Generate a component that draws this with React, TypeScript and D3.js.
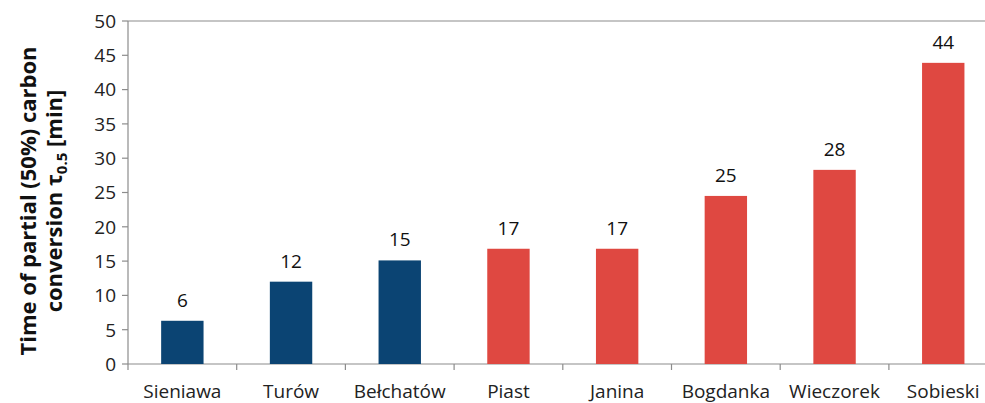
import React from "react";
import * as d3 from "d3";

const categories = ["Sieniawa", "Turów", "Bełchatów", "Piast", "Janina", "Bogdanka", "Wieczorek", "Sobieski"];
const values = [6.3, 12.0, 15.1, 16.8, 16.8, 24.5, 28.3, 43.9];
const labels = ["6", "12", "15", "17", "17", "25", "28", "44"];
const groups = ["blue", "blue", "blue", "red", "red", "red", "red", "red"];
const yTicks = [0, 5, 10, 15, 20, 25, 30, 35, 40, 45, 50];

const W = 985, H = 403;
const left = 128, right = 997.6, top = 21, bottom = 364;
const colors: Record<string, string> = { blue: "#0b4473", red: "#df4841" };
const font = "'Open Sans', 'Noto Sans', sans-serif";

export default function App() {
  const x = d3.scaleBand<string>().domain(categories).range([left, right]).paddingInner(0.61).paddingOuter(0.305);
  const band = d3.scaleBand<string>().domain(categories).range([left, right]);
  const y = d3.scaleLinear().domain([0, 50]).range([bottom, top]);
  const axisColor = "#8c8c8c";
  return (
    <svg width={W} height={H} style={{ position: "absolute", left: 0, top: 0, background: "#fff" }}>
      <line x1={left} x2={W} y1={y(50)} y2={y(50)} stroke={axisColor} strokeWidth={1.2} />
      <line x1={left} x2={left} y1={top} y2={bottom} stroke={axisColor} strokeWidth={1.2} />
      <line x1={left} x2={W} y1={bottom} y2={bottom} stroke={axisColor} strokeWidth={1.2} />
      {yTicks.map((t) => (
        <g key={t}>
          <line x1={left - 6} x2={left} y1={y(t)} y2={y(t)} stroke={axisColor} strokeWidth={1.2} />
          <text x={left - 12} y={y(t)} dy="0.36em" textAnchor="end" fontFamily={font} fontSize={19} fill="#222">{t}</text>
        </g>
      ))}
      {categories.map((c) => (
        <line key={"t" + c} x1={band(c)!} x2={band(c)!} y1={bottom} y2={bottom + 6} stroke={axisColor} strokeWidth={1.2} />
      ))}
      {categories.map((c, i) => (
        <g key={c}>
          <rect x={x(c)!} y={y(values[i])} width={x.bandwidth()} height={bottom - y(values[i])} fill={colors[groups[i]]} />
          <text x={x(c)! + x.bandwidth() / 2} y={y(values[i]) - 14} textAnchor="middle" fontFamily={font} fontSize={19} fill="#111">{labels[i]}</text>
          <text x={band(c)! + band.bandwidth() / 2} y={398} textAnchor="middle" fontFamily={font} fontSize={19} fill="#222">{c}</text>
        </g>
      ))}
      <g transform="translate(36,201) rotate(-90)">
        <text textAnchor="middle" fontFamily={font} fontWeight="bold" fontSize={22} fill="#111">Time of partial (50%) carbon</text>
      </g>
      <g transform="translate(62,201) rotate(-90)">
        <text textAnchor="middle" fontFamily={font} fontWeight="bold" fontSize={22} fill="#111">
          conversion  τ<tspan fontSize={15} dy={5}>0.5</tspan><tspan dy={-5}> [min]</tspan>
        </text>
      </g>
    </svg>
  );
}
